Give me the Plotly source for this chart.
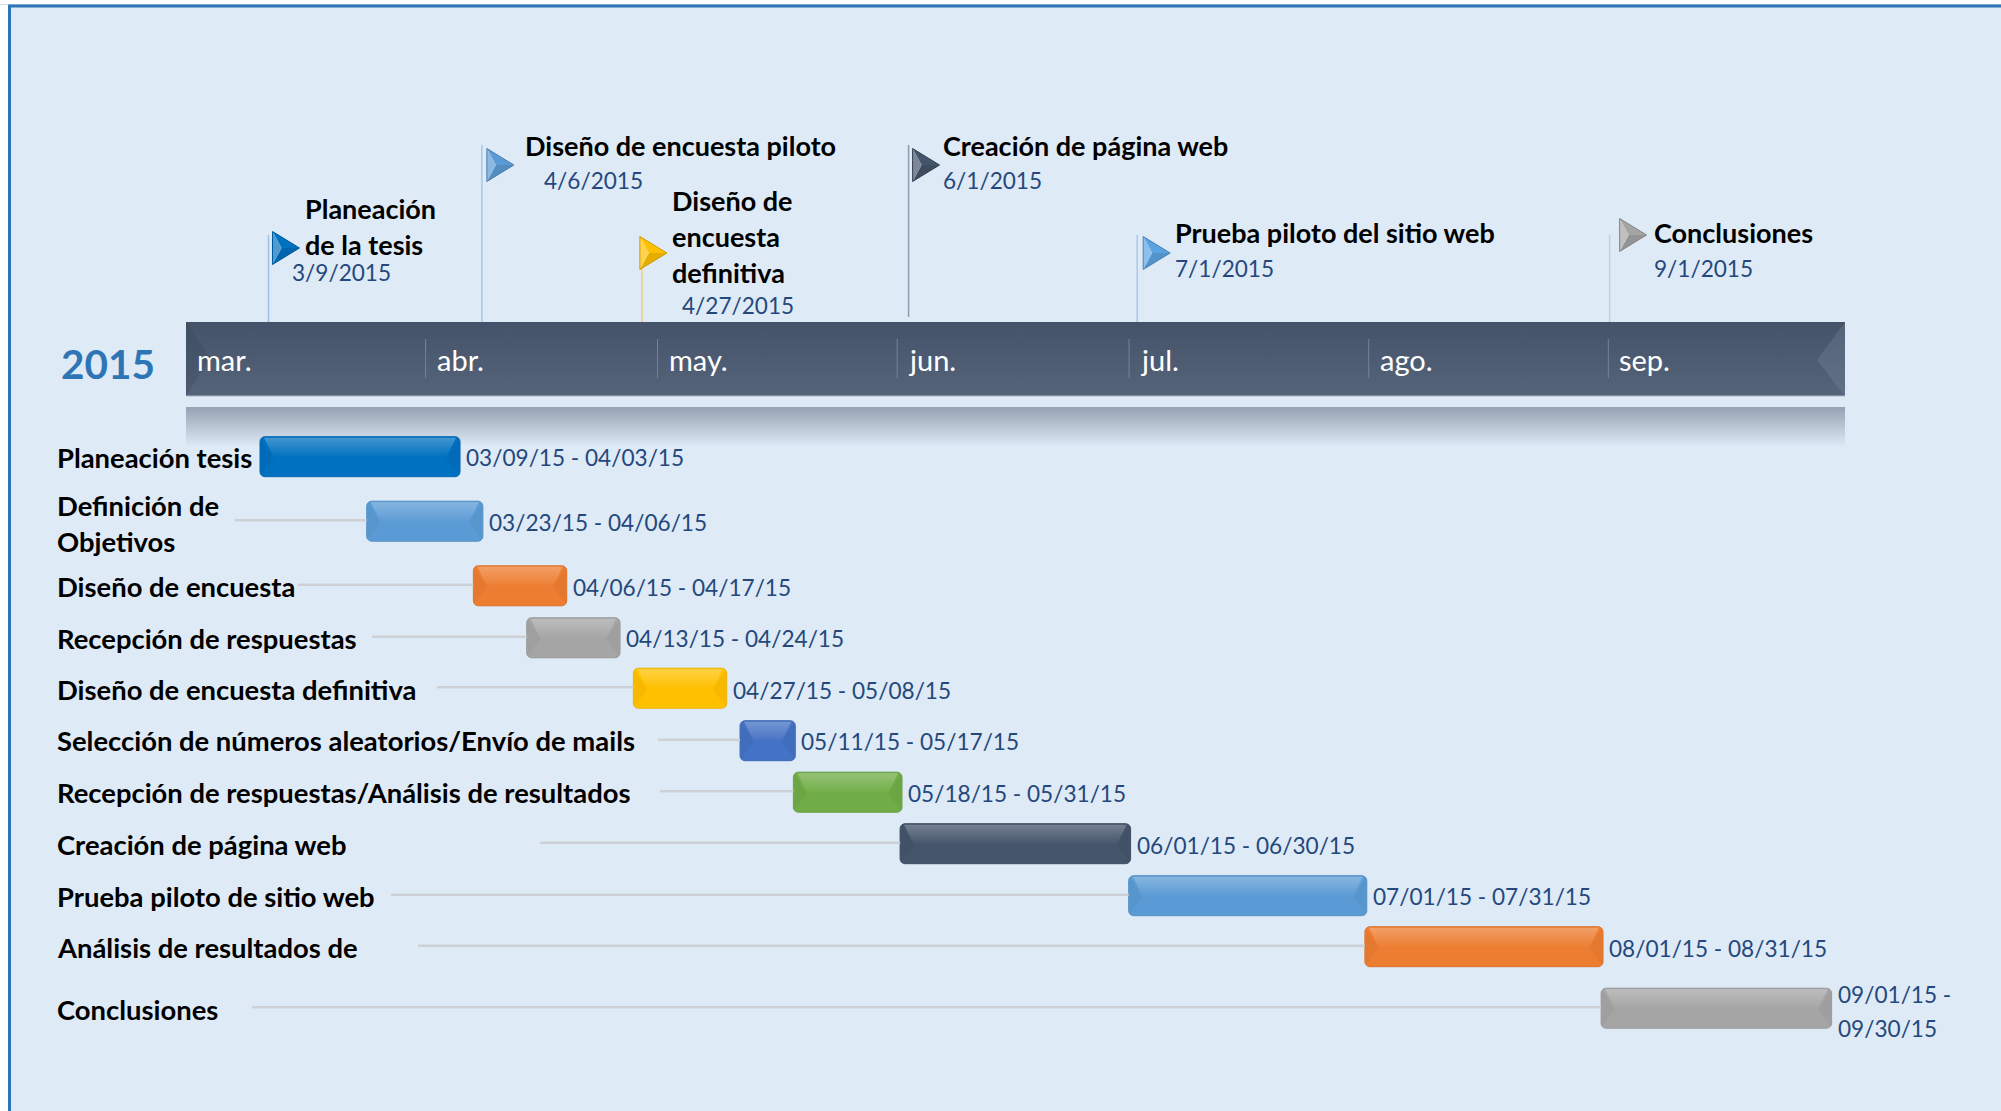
"""Gantt style thesis timeline for 2015, drawn with Plotly on date axes."""

from datetime import datetime, timedelta

import plotly.graph_objects as go

WIDTH = 2001
HEIGHT = 1111
FONT = "Lato"

# --- data -------------------------------------------------------------------
year_label = "2015"
months = ["mar.", "abr.", "may.", "jun.", "jul.", "ago.", "sep."]
month_starts = ["2015-03-01", "2015-04-01", "2015-05-01", "2015-06-01",
                "2015-07-01", "2015-08-01", "2015-09-01"]

tasks = [
    "Planeación tesis",
    "Definición de<br>Objetivos",
    "Diseño de encuesta",
    "Recepción de respuestas",
    "Diseño de encuesta definitiva",
    "Selección de números aleatorios/Envío de mails",
    "Recepción de respuestas/Análisis de resultados",
    "Creación de página web",
    "Prueba piloto de sitio web",
    "Análisis de resultados de",
    "Conclusiones",
]
task_start = ["2015-03-09", "2015-03-23", "2015-04-06", "2015-04-13", "2015-04-27", "2015-05-11",
              "2015-05-18", "2015-06-01", "2015-07-01", "2015-08-01", "2015-09-01"]
task_end = ["2015-04-03", "2015-04-06", "2015-04-17", "2015-04-24", "2015-05-08", "2015-05-17",
            "2015-05-31", "2015-06-30", "2015-07-31", "2015-08-31", "2015-09-30"]
task_ranges = [
    "03/09/15 - 04/03/15", "03/23/15 - 04/06/15", "04/06/15 - 04/17/15", "04/13/15 - 04/24/15",
    "04/27/15 - 05/08/15", "05/11/15 - 05/17/15", "05/18/15 - 05/31/15", "06/01/15 - 06/30/15",
    "07/01/15 - 07/31/15", "08/01/15 - 08/31/15", "09/01/15 -<br>09/30/15",
]
task_colors = ["#0070c0", "#5b9bd5", "#ed7d31", "#a5a5a5", "#ffc000", "#4472c4",
               "#70ad47", "#44546a", "#5b9bd5", "#ed7d31", "#a5a5a5"]

milestones = ["Planeación<br>de la tesis", "Diseño de encuesta piloto", "Diseño de<br>encuesta<br>definitiva",
              "Creación de página web", "Prueba piloto del sitio web", "Conclusiones"]
milestone_dates = ["2015-03-09", "2015-04-06", "2015-04-27", "2015-06-01", "2015-07-01", "2015-09-01"]
milestone_labels = ["3/9/2015", "4/6/2015", "4/27/2015", "6/1/2015", "7/1/2015", "9/1/2015"]
milestone_colors = ["#0070c0", "#5b9bd5", "#ffc000", "#44546a", "#5ba3e0", "#a5a5a5"]
pole_colors = ["#9cc3e6", "#a4c8ea", "#f4cf6e", "#8f9bab", "#a9c9e8", "#c6ced6"]

# --- layout (page pixels) ---------------------------------------------------
row_y = [456.7, 521.2, 585.8, 637.8, 688.2, 740.7, 792.2, 843.7, 895.7, 946.7, 1008.2]
leader_left = [None, 235, 298, 372, 437, 658, 660, 540, 391, 418, 252]
label_y = [457, 505, 586.5, 638, 689.5, 740, 792.5, 844, 896, 947, 1009]
range_y = [457, 522, 587, 638, 690, 741, 793, 845, 896, 948, 994]

pole_top = [235, 145, 267, 145, 235, 235]
pole_bottom = [322, 322, 322, 317, 322, 322]
flag_dx = [4, 5, -2, 4, 6, 10]
flag_mid = [248, 165, 253, 165, 253, 235]
title_left = [303.5, 524, 671, 941.5, 1173.5, 1652.5]
title_y = [208.5, 145, 200.5, 145, 232.5, 232.5]
date_left = [291, 542.5, 680.5, 941.5, 1173.5, 1652.5]
date_y = [272, 180, 305, 180, 268, 268]

BAND_L, BAND_R, BAND_T, BAND_B = 186, 1845, 322, 396
REFL_T, REFL_B = 407, 447
BG = "#deeaf6"
INK = "#24487c"


def parse(d):
    return datetime.fromisoformat(d)


def axis_range(ref_date, ref_px, px_per_day):
    left = parse(ref_date) - timedelta(days=ref_px / px_per_day)
    right = left + timedelta(days=WIDTH / px_per_day)
    return [left.isoformat(), right.isoformat()]


# three date scales: the month band, the bars and the flags are not quite aligned in the source.
# The axes stack in this order, which keeps the bars above the band's reflection.
BAR_SCALE = 7.62
MONTH_SCALE = 7.73
month_range = axis_range("2015-03-01", 186, MONTH_SCALE)
bar_range = axis_range("2015-03-09", 260, BAR_SCALE)
flag_range = axis_range("2015-03-09", 268.5, BAR_SCALE)


def bar_date(px):
    return parse(bar_range[0]) + timedelta(days=px / BAR_SCALE)


def shifted(d, px):
    return d + timedelta(days=px / BAR_SCALE)


def lighten(hex_color, amount):
    rgb = [int(hex_color[i:i + 2], 16) for i in (1, 3, 5)]
    rgb = [round(c + (255 - c) * amount) if amount > 0 else round(c * (1 + amount)) for c in rgb]
    return "#%02x%02x%02x" % tuple(rgb)


fig = go.Figure()
shapes = []
annotations = []


def add_text(text, x, y, size, color, bold=False, xref="paper", xshift=0, step=None, anchor="left"):
    lines = text.split("<br>")
    for i, line in enumerate(lines):
        annotations.append(dict(
            text=f"<b>{line}</b>" if bold else line,
            x=x / WIDTH if xref == "paper" else x,
            y=y + i * (step or 0),
            xref=xref, yref="y", xanchor=anchor, yanchor="middle", xshift=xshift,
            showarrow=False, align="left", borderpad=0,
            font=dict(family=FONT, size=size, color=color),
        ))


# page frame
shapes.append(dict(type="rect", xref="paper", yref="y", x0=9 / WIDTH, x1=1, y0=6, y1=HEIGHT,
                   fillcolor=BG, line_width=0, layer="below"))
shapes.append(dict(type="line", xref="paper", yref="y", x0=0, x1=1, y0=4.5, y1=4.5,
                   line=dict(color="#cfe0f0", width=1), layer="below"))
shapes.append(dict(type="line", xref="paper", yref="y", x0=8 / WIDTH, x1=1, y0=6, y1=6,
                   line=dict(color="#2e75b6", width=3), layer="below"))
shapes.append(dict(type="line", xref="paper", yref="y", x0=9.5 / WIDTH, x1=9.5 / WIDTH, y0=5, y1=HEIGHT,
                   line=dict(color="#2e75b6", width=3), layer="below"))

# month band and its reflection
band_dates = [parse(month_range[0]) + timedelta(days=px / MONTH_SCALE)
              for px in (BAND_L, BAND_R, BAND_R, BAND_L, BAND_L)]
fig.add_trace(go.Scatter(
    x=band_dates, y=[REFL_T, REFL_T, REFL_B, REFL_B, REFL_T], mode="lines",
    line_width=0, fill="toself", hoverinfo="skip",
    fillgradient=dict(type="vertical", colorscale=[[0, BG], [0.5, "#bac6d4"], [1, "#95a2b2"]]),
))
fig.add_trace(go.Scatter(
    x=band_dates, y=[BAND_T, BAND_T, BAND_B, BAND_B, BAND_T], mode="lines",
    line_width=0, fill="toself", hoverinfo="skip",
    fillgradient=dict(type="vertical", colorscale=[[0, "#56647a"], [1, "#445369"]]),
))
m0, m_end = band_dates[0], band_dates[1]
shapes.append(dict(type="path", xref="x", yref="y", xsizemode="pixel", xanchor=m0.isoformat(),
                   path=f"M 0,{BAND_T} L 24,{BAND_T + 36} L 0,{BAND_B} Z",
                   fillcolor="rgba(50,65,85,0.25)", line_width=0))
shapes.append(dict(type="path", xref="x", yref="y", xsizemode="pixel", xanchor=m_end.isoformat(),
                   path=f"M 0,{BAND_T} L -28,{BAND_T + 38} L 0,{BAND_B} Z",
                   fillcolor="rgba(150,165,185,0.2)", line_width=0))
shapes.append(dict(type="line", xref="x", yref="y", xsizemode="pixel", xanchor=m0.isoformat(),
                   x0=0, x1=BAND_R - BAND_L, y0=BAND_B, y1=BAND_B,
                   line=dict(color="#a9b4c2", width=1)))

for start, label in zip(month_starts, months):
    if start != month_starts[0]:
        shapes.append(dict(type="line", xref="x", yref="y", x0=start, x1=start, y0=339, y1=378,
                           line=dict(color="#76839a", width=1)))
    add_text(label, start, 359.5, 29, "#ffffff", xref="x", xshift=10)

add_text(year_label, 60, 363, 40.5, "#2e75b6", bold=True)

# milestones
for i, when in enumerate(milestone_dates):
    shapes.append(dict(type="line", xref="x3", yref="y", x0=when, x1=when,
                       y0=pole_top[i], y1=pole_bottom[i], line=dict(color=pole_colors[i], width=1.5)))
    mid, c = flag_mid[i], milestone_colors[i]
    dx = flag_dx[i]
    top, bot, tip = mid - 16.5, mid + 16.5, dx + 27
    facets = [
        (f"M {dx},{top} L {tip},{mid} L {dx + 9},{mid} Z", c),
        (f"M {dx},{bot} L {tip},{mid} L {dx + 9},{mid} Z", lighten(c, -0.1)),
        (f"M {dx},{top} L {dx + 9},{mid} L {dx},{bot} Z", lighten(c, 0.3)),
    ]
    for path, fill in facets:
        shapes.append(dict(type="path", xref="x3", yref="y", xsizemode="pixel", xanchor=when,
                           path=path, fillcolor=fill, line_width=0))
    shapes.append(dict(type="path", xref="x3", yref="y", xsizemode="pixel", xanchor=when,
                       path=f"M {dx},{top} L {tip},{mid} L {dx},{bot} Z", fillcolor="rgba(0,0,0,0)",
                       line=dict(color=lighten(c, -0.2), width=1)))
    add_text(milestones[i], title_left[i], title_y[i], 27, "#000000", bold=True, step=36)
    add_text(milestone_labels[i], date_left[i], date_y[i], 22.6, INK)

# leader lines behind the bars
for i, left in enumerate(leader_left):
    if left is None:
        continue
    fig.add_trace(go.Scatter(
        x=[bar_date(left), parse(task_start[i])], y=[row_y[i] - 1, row_y[i] - 1], mode="lines",
        xaxis="x2", line=dict(color="#cdd1d5", width=2.5), hoverinfo="skip",
    ))

# the bars themselves: a bit past the end date, so a task fills its last day
bar_ends = [parse(e) + timedelta(days=1.25) for e in task_end]
fig.add_trace(go.Bar(
    y=row_y,
    base=task_start,
    x=[(e - parse(s)).total_seconds() * 1000 for s, e in zip(task_start, bar_ends)],
    xaxis="x2",
    width=40,
    orientation="h",
    marker=dict(color=task_colors, cornerradius=5,
                line=dict(color=[lighten(c, -0.08) for c in task_colors], width=1)),
    hovertext=tasks,
    hoverinfo="text",
))

# bevel on each bar
for i, colour in enumerate(task_colors):
    top, mid, bot = row_y[i] - 20, row_y[i] + 1, row_y[i] + 20
    s, e = parse(task_start[i]), bar_ends[i]
    fig.add_trace(go.Scatter(
        x=[shifted(s, 4), shifted(e, -4), shifted(e, -14), shifted(s, 14), shifted(s, 4)],
        y=[top + 1, top + 1, mid, mid, top + 1], mode="lines", line_width=0, fill="toself",
        xaxis="x2", hoverinfo="skip",
        fillgradient=dict(type="vertical", colorscale=[[0, "rgba(255,255,255,0)"], [1, "rgba(255,255,255,0.26)"]]),
    ))
    shapes.append(dict(type="path", xref="x2", yref="y", xsizemode="pixel", xanchor=s.isoformat(),
                       path=f"M 1,{top + 2} L 14,{mid} L 1,{bot - 2} Z",
                       fillcolor="rgba(0,0,0,0.035)", line_width=0))
    shapes.append(dict(type="path", xref="x2", yref="y", xsizemode="pixel", xanchor=e.isoformat(),
                       path=f"M -1,{top + 2} L -14,{mid} L -1,{bot - 2} Z",
                       fillcolor="rgba(0,0,0,0.035)", line_width=0))

    add_text(tasks[i], 55.5, label_y[i], 27.4, "#000000", bold=True, step=36)
    add_text(task_ranges[i], bar_ends[i].isoformat(), range_y[i], 22.6, INK, xref="x2", xshift=5, step=34)

hidden = dict(visible=False, type="date", fixedrange=True)
fig.update_layout(
    width=WIDTH,
    height=HEIGHT,
    autosize=False,
    margin=dict(l=0, r=0, t=0, b=0, pad=0),
    paper_bgcolor="#ffffff",
    plot_bgcolor="rgba(0,0,0,0)",
    showlegend=False,
    barmode="overlay",
    xaxis=dict(range=month_range, **hidden),
    xaxis2=dict(range=bar_range, overlaying="x", **hidden),
    xaxis3=dict(range=flag_range, overlaying="x", **hidden),
    yaxis=dict(range=[HEIGHT, 0], visible=False, fixedrange=True),
    shapes=shapes,
    annotations=annotations,
)

# the browser's default body margin would push the page off by 8px
fig.write_html("out.html", config=dict(displayModeBar=False),
               post_script="document.body.style.margin='0';document.body.style.overflow='hidden';")
